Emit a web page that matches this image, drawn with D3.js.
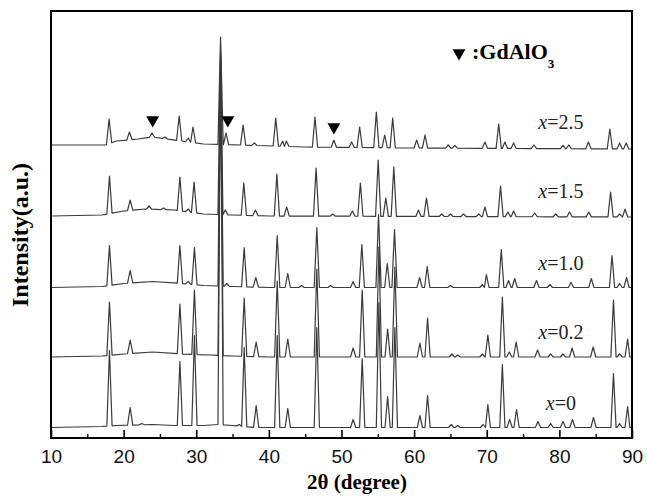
<!DOCTYPE html>
<html>
<head>
<meta charset="utf-8">
<script src="https://cdn.jsdelivr.net/npm/d3@7"></script>
<style>
    body { margin: 0; background: #fff; }
    svg { display: block; }
</style>
</head>
<body>
<svg></svg>
<script>
const
    margin = {
        top: 11,
        right: 15,
        bottom: 60,
        left: 51
    },
    width = 647,
    height = 498

// axis ticks (2θ, degree)
const xTicks = [10, 20, 30, 40, 50, 60, 70, 80, 90]
const xMinorTicks = [15, 25, 35, 45, 55, 65, 75, 85]

// samples, top to bottom
const samples = ["2.5", "1.5", "1.0", "0.2", "0"]
const offsets = [291, 222, 150.5, 81, 10.5]

// slow background of each pattern: [2θ, level]
const baseline25 = [[10, 2], [17.5, 2], [19, 6], [22, 8], [24, 10], [26, 8], [28, 6], [31, 3], [36, 2], [45, 0], [60, -1], [90, -2]]
const baseline15 = [[10, 0], [17, 1], [20, 5], [23, 7], [27, 6], [31, 2], [35, 1], [40, 0], [90, -1]]
const baseline10 = [[10, 0], [17, 1], [20, 4], [24, 6], [28, 4], [31, 2], [35, 1], [40, 0], [90, 0]]
const baseline02 = [[10, 0], [17, 1], [20, 3], [24, 5], [28, 3], [32, 2], [35, 1], [40, 0], [90, 0]]
const baseline0 = [[10, 0], [17, 1], [19, 2], [24, 3], [27, 2], [31, 2], [33, 3], [35, 2], [38, 0], [90, 0]]

// reflections: [2θ, intensity above the pattern's zero]
const peaks25 = [
    [18.0, 28], [20.8, 15], [23.9, 14], [25.7, 10], [27.65, 31], [28.9, 9], [29.55, 20],
    [33.35, 110], [34.1, 14], [36.45, 22], [38.0, 4], [40.95, 29], [41.9, 6], [42.4, 6],
    [46.35, 30], [48.95, 7], [51.4, 5], [52.5, 20], [54.8, 35], [55.95, 12], [57.05, 29],
    [60.35, 7], [61.5, 12], [64.7, 2], [65.6, 1.5], [69.75, 5], [71.65, 23], [72.5, 5],
    [73.7, 4], [76.5, 2], [80.5, 1.5], [81.3, 2], [84.0, 5], [86.95, 18], [88.3, 4], [89.2, 4]
]
const peaks15 = [
    [18.05, 40], [20.9, 16], [23.5, 10], [25.5, 8], [27.75, 39], [28.9, 7], [29.7, 34],
    [33.35, 166], [34.0, 6], [36.55, 33], [38.15, 6], [41.1, 42], [42.45, 9], [46.5, 48],
    [48.8, 2], [51.5, 5], [52.6, 33], [55.05, 56], [56.1, 18], [57.2, 49], [60.6, 6],
    [61.7, 18], [63.8, 2], [65.0, 2], [66.8, 2], [68.9, 2], [69.75, 9], [71.9, 30],
    [72.9, 4], [73.7, 5], [76.6, 3], [79.5, 2], [81.4, 4], [84.05, 4], [87.05, 24],
    [88.3, 2], [89.05, 7]
]
const peaks10 = [
    [18.05, 42], [20.9, 17], [27.75, 42], [28.9, 6], [29.75, 40], [33.35, 232], [34.2, 4],
    [36.6, 40], [38.2, 10], [41.15, 52], [42.6, 14], [44.5, 2], [46.6, 60], [48.5, 2],
    [51.6, 6], [52.8, 43], [55.1, 73], [56.3, 24], [57.3, 58], [60.75, 10], [61.8, 21],
    [65.0, 2], [69.4, 3], [69.95, 13], [72.0, 38], [73.0, 7], [73.85, 9], [76.85, 7],
    [78.7, 3], [81.6, 5], [84.4, 9], [87.25, 32], [88.3, 4], [89.25, 10]
]
const peaks02 = [
    [18.05, 55], [20.9, 17], [27.75, 53], [29.75, 67], [33.35, 299], [36.6, 59], [38.25, 15],
    [41.15, 76], [42.6, 18], [46.6, 88], [51.6, 9], [52.85, 67], [55.15, 110], [56.35, 28],
    [57.35, 90], [60.8, 14], [61.85, 39], [65.2, 3], [66.0, 2], [69.4, 3], [70.15, 22],
    [72.15, 60], [73.1, 5], [74.05, 15], [77.0, 7], [78.8, 3], [80.5, 3], [81.75, 9],
    [84.65, 10], [87.45, 57], [88.3, 3], [89.4, 18]
]
const peaks0 = [
    [18.05, 77], [20.9, 20], [22.5, 4], [27.75, 66], [29.75, 92], [33.35, 367], [35.9, 3],
    [36.6, 80], [38.25, 22], [41.15, 92], [42.6, 19], [46.6, 100], [51.6, 8], [52.85, 69],
    [55.15, 125], [56.35, 31], [57.35, 100], [60.8, 12], [61.85, 32], [65.1, 3], [66.0, 2],
    [69.5, 3], [70.15, 23], [72.15, 63], [73.15, 8], [74.1, 18], [77.05, 6], [78.8, 4],
    [80.5, 6], [81.8, 8], [84.7, 10], [87.45, 54], [88.3, 4], [89.4, 21]
]

const baselines = [baseline25, baseline15, baseline10, baseline02, baseline0]
const peakSets = [peaks25, peaks15, peaks10, peaks02, peaks0]

// GdAlO3 reflections marked on x=2.5
const gdPeaks = [24.0, 34.35, 48.95]
const gdLevels = [14, 14, 7]

const x = d3.scaleLinear()
    .domain([10, 90])
    .range([margin.left, width - margin.right])

const y = d3.scaleLinear()
    .domain([0, 427])
    .range([height - margin.bottom, margin.top])

const halfWidth = 0.36

function pattern(base, peaks, offset) {
    const level = t => {
        const i = d3.bisector(d => d[0]).right(base, t)
        if (i <= 0) return base[0][1]
        if (i >= base.length) return base[base.length - 1][1]
        const [t0, v0] = base[i - 1], [t1, v1] = base[i]
        return v0 + (v1 - v0) * (t - t0) / (t1 - t0)
    }
    const pts = []
    const sorted = peaks.slice().sort((a, b) => a[0] - b[0])
    const spans = sorted.map((p, i) => {
        const prev = i > 0 ? sorted[i - 1][0] : 10
        const next = i < sorted.length - 1 ? sorted[i + 1][0] : 90
        return [Math.max(p[0] - halfWidth, (prev + p[0]) / 2), Math.min(p[0] + halfWidth, (p[0] + next) / 2)]
    })
    base.forEach(b => {
        if (!spans.some(s => b[0] > s[0] && b[0] < s[1])) pts.push([b[0], offset + b[1]])
    })
    sorted.forEach((p, i) => {
        const [a, c] = spans[i]
        pts.push([a, offset + level(a)])
        pts.push([p[0], offset + p[1]])
        pts.push([c, offset + level(c)])
    })
    return pts.sort((a, b) => a[0] - b[0])
}

const xAxis = g => g
    .attr("transform", `translate(0,${height - margin.bottom})`)
    .call(d3.axisBottom(x)
        .tickValues(xTicks)
        .tickSize(-8)
        .tickPadding(12)
        .tickFormat(d3.format("d")))
    .call(g => g.select(".domain").remove())
    .call(g => g.selectAll(".tick line").attr("stroke", "#000").attr("stroke-width", 1.6))
    .call(g => g.selectAll(".tick text")
        .attr("fill", "#111")
        .style("font", "19px 'Liberation Sans', Arial, sans-serif"))

const minorAxis = g => g
    .attr("transform", `translate(0,${height - margin.bottom})`)
    .call(d3.axisBottom(x)
        .tickValues(xMinorTicks)
        .tickSize(-4)
        .tickFormat(""))
    .call(g => g.select(".domain").remove())
    .call(g => g.selectAll(".tick line").attr("stroke", "#000").attr("stroke-width", 1.4))

function render() {
    const svg = d3.select("svg")
        .attr("width", width)
        .attr("height", height)
        .attr("viewBox", [0, 0, width, height])

    const line = d3.line()
        .x(d => x(d[0]))
        .y(d => y(d[1]))

    svg.append("g")
        .attr("class", "patterns")
        .attr("fill", "none")
        .attr("stroke", "#3a3a3a")
        .attr("stroke-width", 1.2)
        .attr("stroke-linejoin", "round")
        .selectAll("path")
        .data(samples)
        .join("path")
        .attr("d", (d, i) => line(pattern(baselines[i], peakSets[i], offsets[i])))

    // sample labels
    svg.append("g")
        .selectAll("text")
        .data(samples)
        .join("text")
        .attr("x", x(80.2))
        .attr("y", (d, i) => y(offsets[i] + 18))
        .attr("text-anchor", "middle")
        .style("font", "20px 'Liberation Serif', 'Times New Roman', serif")
        .attr("fill", "#222")
        .call(t => t.append("tspan").attr("font-style", "italic").text("x"))
        .call(t => t.append("tspan").text(d => "=" + d))

    // GdAlO3 markers
    const tri = d3.symbol().type(d3.symbolTriangle).size(72)
    svg.append("g")
        .selectAll("path")
        .data(gdPeaks)
        .join("path")
        .attr("d", tri)
        .attr("fill", "#000")
        .attr("transform", (d, i) => `translate(${x(d)},${y(offsets[0] + gdLevels[i]) - 13}) rotate(180)`)

    // legend
    svg.append("path")
        .attr("d", tri)
        .attr("fill", "#000")
        .attr("transform", "translate(459,53) rotate(180)")
    svg.append("text")
        .attr("x", 472)
        .attr("y", 59)
        .style("font", "bold 22px 'Liberation Serif', 'Times New Roman', serif")
        .text(":GdAlO")
        .append("tspan")
        .attr("dy", 9)
        .style("font-size", "13px")
        .text("3")

    svg.append("g")
        .attr("class", "x-axis")
        .call(xAxis)

    svg.append("g")
        .attr("class", "x-minor")
        .call(minorAxis)

    // frame
    svg.append("rect")
        .attr("x", margin.left)
        .attr("y", margin.top)
        .attr("width", width - margin.left - margin.right)
        .attr("height", height - margin.top - margin.bottom)
        .attr("fill", "none")
        .attr("stroke", "#000")
        .attr("stroke-width", 2)

    svg.append("text")
        .attr("x", 357)
        .attr("y", 489)
        .attr("text-anchor", "middle")
        .style("font", "bold 21px 'Liberation Serif', 'Times New Roman', serif")
        .text("2θ (degree)")

    svg.append("text")
        .attr("transform", "translate(28,235) rotate(-90)")
        .attr("text-anchor", "middle")
        .style("font", "bold 24px 'Liberation Serif', 'Times New Roman', serif")
        .text("Intensity(a.u.)")
}

render()
</script>
</body>
</html>
